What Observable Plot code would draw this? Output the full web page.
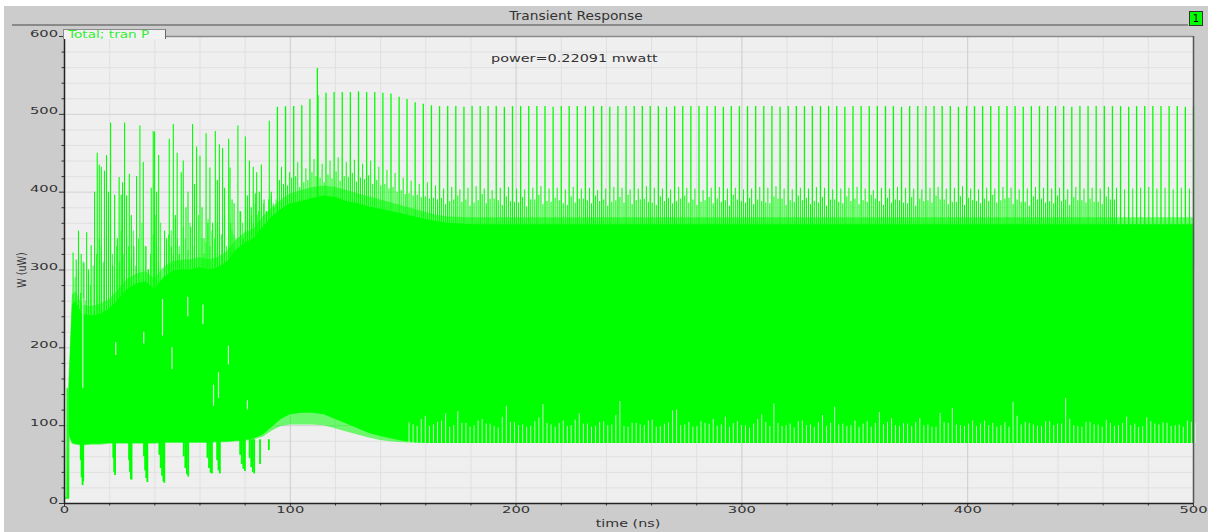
<!DOCTYPE html>
<html><head><meta charset="utf-8">
<script src="https://cdn.jsdelivr.net/npm/d3@7"></script>
<script src="https://cdn.jsdelivr.net/npm/@observablehq/plot@0.6"></script>
<style>
html,body{margin:0;padding:0;background:#fff;}
#wrap{position:relative;width:1208px;height:532px;overflow:hidden;font-family:"DejaVu Sans",sans-serif;}
#chart{position:absolute;left:0;top:0;}
.ov{position:absolute;white-space:nowrap;}
</style></head><body>
<div id="wrap">
<div id="chart"></div>
<div class="ov" style="left:0;top:0;width:1208px;height:6px;background:#fff;"></div>
<div class="ov" style="left:0;top:0;width:4px;height:532px;background:#fff;"></div>
<div class="ov" style="left:12px;top:24px;width:1176px;height:1.5px;background:#8a8a8a;"></div>
<div class="ov" id="title" style="left:426px;top:10px;width:300px;text-align:center;font-size:11.5px;line-height:12px;color:#333;transform:scaleX(1.2);transform-origin:center;"></div>
<div class="ov" style="left:1189px;top:11px;width:12px;height:13px;background:#00ff00;border:1px solid #333;font-size:10px;line-height:13px;text-align:center;color:#000;">1</div>
<div class="ov" style="left:63px;top:29px;width:101px;height:9px;background:#f2f2f2;border-top:1px solid #8a8a8a;border-left:1px solid #8a8a8a;border-right:1.5px solid #666;"><span id="legend" style="position:absolute;left:4px;top:-1px;font-size:11px;line-height:11px;color:#33ee33;transform:scaleX(1.24);transform-origin:left;"></span></div>
<div class="ov" id="power" style="left:491px;top:53px;font-size:11px;line-height:11px;color:#333;transform:scaleX(1.31);transform-origin:left;"></div>
<div class="ov" id="xlabel" style="left:527.5px;top:518px;width:200px;text-align:center;font-size:11px;line-height:11px;color:#333;transform:scaleX(1.3);transform-origin:center;"></div>
<div class="ov" id="ylabel" style="left:22px;top:270px;font-size:9.5px;line-height:10px;color:#333;transform:translate(-50%,-50%) rotate(-90deg) scaleY(1.3);"></div>
</div>
<script>
// ---- texts ----
const titleText = "Transient Response";
const legendText = "Total; tran P";
const powerText = "power=0.22091 mwatt";
const xLabel = "time (ns)";
const yLabel = "W (uW)";

// ---- tick values ----
const xMajor = [0, 100, 200, 300, 400, 500];
const xMinor = [20, 40, 60, 80, 120, 140, 160, 180, 220, 240, 260, 280, 320, 340, 360, 380, 420, 440, 460, 480];
const yMajor = [0, 100, 200, 300, 400, 500, 600];
const yMinor = [20, 40, 60, 80, 120, 140, 160, 180, 220, 240, 260, 280, 320, 340, 360, 380, 420, 440, 460, 480, 520, 540, 560, 580];

// ---- start-up segment (ns, uW) ----
const startT = [0, 0.08, 0.6, 1.1, 1.2, 1.3, 1.8, 1.9];
const startV = [70, 7, 7, 7, 148, 7, 7, 88];

// ---- envelope of the dense oscillation (ns, uW) ----
const bandT = [1.9, 3.5, 5, 8, 12, 16, 20, 24, 28, 32, 36, 40, 44, 48, 52, 56, 60, 64, 68, 72, 76, 80, 84, 88, 92, 96,
  100, 105, 110, 115, 120, 125, 130, 135, 140, 145, 150, 155, 160, 165, 170, 180, 200, 250, 300, 350, 400, 450, 500];
const bandOuterLow = [88, 76, 75, 74, 75, 75, 76, 76, 76, 76, 76, 76, 77, 77, 77, 77, 77, 77, 78, 78, 79, 80, 82, 85, 93, 99,
  101, 101, 101, 100, 96, 92, 88, 84, 81, 79, 78, 77.5, 77, 77, 77, 77, 77, 77, 77, 77, 77, 77, 77];
const bandInnerLow = [90, 77, 76, 75, 76, 76, 77, 77, 77, 77, 77, 77, 78, 78, 78, 78, 78, 78, 79, 79, 80, 81, 83, 88, 98, 108,
  114, 116, 116, 114, 108, 102, 96, 90, 86, 83, 80, 78, 77, 77, 77, 77, 77, 77, 77, 77, 77, 77, 77];
const bandInnerHigh = [140, 255, 260, 243, 241, 243, 250, 262, 275, 282, 285, 275, 290, 298, 300, 300, 303, 300, 303, 310, 325, 335, 340, 355, 368, 378,
  385, 388, 392, 395, 393, 388, 385, 381, 378, 375, 372, 368, 365, 362, 360, 358, 358, 358, 358, 358, 358, 358, 358];
const bandOuterHigh = [150, 268, 272, 255, 253, 256, 262, 275, 288, 295, 298, 288, 303, 311, 313, 313, 316, 313, 316, 323, 338, 348, 353, 368, 380, 390,
  398, 402, 406, 408, 406, 402, 398, 394, 390, 386, 382, 378, 374, 370, 368, 367, 367, 367, 367, 367, 367, 367, 367];

// ---- early irregular spikes (ns, uW) ----
const earlyT = [3.8, 5.2, 6.2, 7.4, 8.6, 9.8, 10.6, 11.8, 13.3, 14.5, 15.4, 16.3, 17.7, 18.6, 19.5, 20.4, 21.3, 22.2, 23.4, 24.2,
  25.1, 25.7, 26.6, 27.5, 28.7, 29.6, 30.7, 31.9, 33.4, 34.9, 36.1, 37.2, 38.4, 39.3, 39.9, 40.8, 41.7, 43.4, 44.3, 45.2,
  46.4, 47.3, 48.2, 49.1, 49.9, 50.8, 51.7, 52.6, 53.8, 54.7, 55.9, 56.7, 57.6, 58.5, 60.0, 60.9, 61.8, 62.7, 63.5, 64.4,
  65.6, 66.8, 67.7, 68.6, 70.0, 70.9, 72.7, 73.3, 74.2, 75.1, 76.8, 78.0, 79.2, 80.1, 81.0, 81.9, 82.7, 83.6, 84.5, 85.1,
  86.3, 87.2, 88.4, 89.5, 90.7, 91.6, 92.8];
const earlyV = [322, 313, 350, 320, 309, 348, 300, 331, 400, 450, 435, 432, 427, 447, 400, 489, 305, 396, 340, 419,
  396, 412, 489, 395, 423, 370, 330, 420, 485, 438, 330, 300, 405, 478, 477, 400, 447, 285, 350, 340,
  468, 330, 487, 370, 450, 320, 425, 440, 380, 400, 355, 487, 410, 458, 446, 380, 340, 475, 360, 431,
  360, 478, 415, 461, 456, 405, 468, 431, 390, 385, 485, 375, 340, 471, 395, 440, 380, 432, 398, 425,
  400, 435, 390, 375, 491, 400, 380];
// lower spikes just after each early spike
const earlyV2 = [290, 300, 270, 310, 260, 295, 280, 305, 320, 340,
  330, 310, 345, 300, 360, 320, 295, 330, 310, 350,
  320, 300, 340, 330, 315, 350, 305, 340, 360, 330,
  300, 320, 345, 370, 330, 310, 360, 300, 335, 345,
  350, 320, 365, 340, 330, 310, 355, 340, 325, 360,
  330, 350, 345, 370, 340, 320, 335, 365, 330, 350,
  340, 360, 355, 345, 370, 330, 360, 350, 345, 340,
  375, 360, 350, 380, 365, 370, 360, 385, 370, 375,
  380, 385, 375, 390, 395, 385, 390];

// ---- light gaps inside the early dense region (ns, uW) ----
const earlyGapT = [8.1, 22.7, 35.1, 43.4, 47.6, 54.6, 61.3, 66.0, 68.2, 72.6, 81.0];
const earlyGapLo = [148, 190, 205, 215, 172, 240, 230, 125, 135, 178, 120];
const earlyGapHi = [263, 207, 220, 262, 200, 265, 255, 152, 168, 202, 132];

// ---- downward dips in the first 90 ns (ns, uW) ----
const dipT = [7.2, 7.6, 8.0, 8.3, 21.6, 22.0, 22.4, 28.6, 29.0, 29.4, 29.7, 35.2, 35.7, 36.2, 36.7, 42.0, 42.6, 43.2, 43.8, 44.2,
  52.8, 53.5, 54.2, 54.8, 63.3, 64.0, 64.7, 65.3, 67.6, 68.2, 68.8, 77.8, 78.5, 79.2, 79.9, 82.0, 82.7, 83.4, 84.0, 86.6, 90.5];
const dipV = [55, 33, 23, 28, 58, 40, 36, 55, 40, 31, 30, 60, 42, 32, 27, 62, 45, 35, 28, 26,
  60, 45, 37, 34, 58, 45, 39, 38, 55, 42, 38, 62, 50, 44, 41, 58, 46, 40, 38, 50, 68];

// ---- periodic tall spikes (ns, uW) ----
const peakT = [94.3, 97.9, 101.5, 105.1, 108.7, 112.3, 115.8, 119.4, 123.0, 126.6, 130.2, 133.8, 137.4, 141.0, 144.6, 148.2, 151.7, 155.3, 158.9, 162.5,
  166.1, 169.7, 173.3, 176.9, 180.5, 184.1, 187.6, 191.2, 194.8, 198.4, 202.0, 205.6, 209.2, 212.8, 216.4, 220.0, 223.5, 227.1, 230.7, 234.3,
  237.9, 241.5, 245.1, 248.7, 252.3, 255.9, 259.4, 263.0, 266.6, 270.2, 273.8, 277.4, 281.0, 284.6, 288.2, 291.8, 295.3, 298.9, 302.5, 306.1,
  309.7, 313.3, 316.9, 320.5, 324.1, 327.7, 331.2, 334.8, 338.4, 342.0, 345.6, 349.2, 352.8, 356.4, 360.0, 363.6, 367.1, 370.7, 374.3, 377.9,
  381.5, 385.1, 388.7, 392.3, 395.9, 399.5, 403.0, 406.6, 410.2, 413.8, 417.4, 421.0, 424.6, 428.2, 431.8, 435.4, 438.9, 442.5, 446.1, 449.7,
  453.3, 456.9, 460.5, 464.1, 467.7, 471.3, 474.8, 478.4, 482.0, 485.6, 489.2, 492.8, 496.4, 500.0];
const peakV = [509, 510, 510, 511, 519, 524, 527, 528, 528, 528, 529, 528, 528, 527, 526, 522, 519, 515, 513, 511,
  510, 510, 510, 509, 510, 510, 510, 510, 509, 510, 510, 510, 510, 510, 509, 510, 510, 510, 510, 510,
  510, 509, 510, 510, 510, 510, 510, 510, 509, 510, 510, 510, 510, 510, 510, 509, 510, 510, 510, 510,
  510, 510, 509, 510, 510, 510, 510, 510, 510, 510, 509, 510, 510, 510, 510, 510, 510, 509, 510, 510,
  510, 510, 510, 510, 509, 510, 510, 510, 510, 510, 510, 510, 509, 510, 510, 510, 510, 510, 509, 510,
  510, 510, 510, 510, 510, 509, 510, 510, 510, 510, 510, 510, 509, 510];
// spikes right after each tall spike
const peakSubV = [415, 408, 420, 412, 425, 418, 422, 426, 420, 424, 418, 421, 415, 410, 406, 402, 398, 396, 394, 392,
  392, 388, 395, 390, 386, 397, 391, 389, 394, 387,
  393, 390, 396, 388, 392, 385, 394, 391, 389, 395,
  390, 387, 393, 396, 389, 391, 386, 394, 392, 388,
  395, 390, 387, 393, 391, 389, 396, 388, 392, 390,
  386, 394, 391, 389, 395, 392, 388, 393, 390, 387,
  394, 391, 389, 396, 388, 392, 390, 386, 393, 391,
  389, 395, 390, 387, 394, 392, 388, 391, 396, 389,
  392, 390, 387, 394, 391, 388, 395, 390, 393, 389,
  391, 387, 394, 390];
// shallow troughs right after each tall spike (null = not distinct)
const peakGapV = [null, null, null, null, null, null, null, null, null, null, null, null, null, null, null, null,
  104, 99, 112, 101, 106, 98, 118, 103, 100, 108,
  102, 97, 125, 104, 101, 99, 110, 103, 98, 106,
  100, 115, 102, 99, 105, 101, 131, 98, 103, 100,
  107, 99, 104, 120, 101, 98, 105, 102, 99, 111,
  103, 100, 97, 108, 104, 128, 99, 102, 105, 100,
  98, 113, 103, 101, 99, 106, 102, 98, 117, 104,
  100, 103, 99, 109, 101, 98, 104, 122, 100, 102,
  99, 106, 103, 100, 98, 112, 104, 101, 99, 105,
  102, 135, 100, 98, 104, 101, 107, 99, 103, 100,
  98, 110, 102, 104, 99, 101, 106, 103];
const tallT = [112.0];
const tallV = [559];

// ---- secondary spikes between the tall ones (ns, uW) ----
const midT = [96.1, 99.7, 103.3, 106.9, 110.5, 114.1, 117.6, 121.2, 124.8, 128.4, 132.0, 135.6, 139.2, 142.8, 146.4, 150.0, 153.5, 157.1, 160.7, 164.3,
  167.9, 171.5, 175.1, 178.7, 182.3, 185.9, 189.4, 193.0, 196.6, 200.2, 203.8, 207.4, 211.0, 214.6, 218.2, 221.8, 225.3, 228.9, 232.5, 236.1,
  239.7, 243.3, 246.9, 250.5, 254.1, 257.7, 261.2, 264.8, 268.4, 272.0, 275.6, 279.2, 282.8, 286.4, 290.0, 293.6, 297.1, 300.7, 304.3, 307.9,
  311.5, 315.1, 318.7, 322.3, 325.9, 329.5, 333.0, 336.6, 340.2, 343.8, 347.4, 351.0, 354.6, 358.2, 361.8, 365.4, 368.9, 372.5, 376.1, 379.7,
  383.3, 386.9, 390.5, 394.1, 397.7, 401.3, 404.8, 408.4, 412.0, 415.6, 419.2, 422.8, 426.4, 430.0, 433.6, 437.2, 440.7, 444.3, 447.9, 451.5,
  455.1, 458.7, 462.3, 465.9, 469.5, 473.1, 476.6, 480.2, 483.8, 487.4, 491.0, 494.6, 498.2];
const midV = [432, 425, 438, 430, 442, 436, 440, 444, 438, 441, 436, 440, 432, 428, 424, 418, 414, 410, 412, 408,
  404, 406, 403, 405, 407, 404, 402, 405, 406, 404, 403, 405, 407, 404, 405, 403, 406, 404, 405, 402,
  404, 406, 405, 403, 404, 407, 405, 404, 403, 406, 405, 404, 402, 405, 406, 404, 405, 403, 404, 406,
  405, 407, 404, 403, 405, 404, 406, 405, 403, 404, 405, 406, 404, 402, 405, 404, 406, 405, 404, 403,
  405, 406, 404, 405, 407, 404, 403, 405, 404, 406, 405, 403, 404, 406, 405, 404, 405, 403, 406, 404,
  405, 404, 406, 405, 403, 404, 405, 406, 404, 405, 403, 405, 404];
const midSubV = [410, 418, 406, 415, 420, 412, 417, 414, 419, 413, 416, 410, 408, 404, 400, 397, 395, 393, 391, 390,
  384, 390, 387, 382, 389, 385, 391, 383, 388, 386,
  381, 390, 384, 387, 389, 383, 386, 391, 385, 388,
  382, 389, 386, 384, 390, 387, 383, 388, 385, 391,
  386, 383, 389, 385, 387, 382, 390, 386, 384, 388,
  385, 391, 383, 387, 389, 384, 386, 382, 390, 385,
  388, 384, 387, 391, 383, 386, 389, 385, 382, 388,
  386, 390, 384, 387, 383, 389, 385, 388, 386, 391,
  384, 387, 382, 390, 386, 385, 388, 383, 389, 386,
  387, 384, 390];
const midGapV = [null, null, null, null, null, null, null, null, null, null, null, null, null, null, null, null,
  101, 108, 99, 104, 115, 100, 103, 98, 106, 102,
  99, 111, 104, 100, 98, 105, 127, 101, 103, 99,
  107, 102, 98, 104, 100, 113, 99, 103, 101, 106,
  98, 102, 119, 100, 104, 99, 103, 108, 101, 98,
  105, 100, 102, 114, 99, 103, 100, 97, 106, 101,
  104, 99, 124, 102, 100, 98, 105, 103, 101, 109,
  99, 102, 104, 100, 98, 116, 103, 101, 99, 106,
  102, 100, 98, 104, 130, 101, 103, 99, 105, 100,
  102, 108, 99, 104, 101, 98, 103, 100, 111, 102,
  99, 105, 101, 103, 100, 98, 104];

// ---- build tables ----
const band = bandT.map((t, i) => ({t, lo1: bandOuterLow[i], lo2: bandInnerLow[i], hi2: bandInnerHigh[i], hi1: bandOuterHigh[i]}));
const start = startT.map((t, i) => ({t, v: startV[i]}));
const early = earlyT.map((t, i) => ({t, v: earlyV[i], v2: earlyV2[i]}));
const earlyGaps = earlyGapT.map((t, i) => ({t, lo: earlyGapLo[i], hi: earlyGapHi[i]}));
const dips = dipT.map((t, i) => ({t, v: dipV[i]}));
const peaks = peakT.map((t, i) => ({t, v: peakV[i], sub: peakSubV[i], gap: peakGapV[i]}));
const tall = tallT.map((t, i) => ({t, v: tallV[i]}));
const mids = midT.map((t, i) => ({t, v: midV[i], sub: midSubV[i], gap: midGapV[i]}));
const peakGaps = peaks.filter(d => d.gap != null);
const midGaps = mids.filter(d => d.gap != null);

const G = "#00ff00";
const PALE = "#c6f4c6";
const plot = Plot.plot({
  width: 1208, height: 532,
  marginLeft: 64, marginRight: 15, marginTop: 36, marginBottom: 29,
  x: {domain: [0, 500]},
  y: {domain: [0, 600]},
  style: {background: "#cccccc", fontFamily: "DejaVu Sans, sans-serif", overflow: "visible"},
  marks: [
    Plot.frame({fill: "#efefef", stroke: null}),
    Plot.gridY({ticks: yMinor, stroke: "#e0e0e0", strokeOpacity: 1}),
    Plot.gridX({ticks: xMinor, stroke: "#e0e0e0", strokeOpacity: 1}),
    Plot.gridY({ticks: yMajor, stroke: "#d2d2d2", strokeOpacity: 1}),
    Plot.gridX({ticks: xMajor, stroke: "#cdcdcd", strokeOpacity: 1}),
    Plot.areaY(band, {x: "t", y1: "lo1", y2: "hi1", fill: G, fillOpacity: 0.55}),
    Plot.areaY(band, {x: "t", y1: "lo2", y2: "hi2", fill: G}),
    Plot.line(start, {x: "t", y: "v", stroke: G, strokeWidth: 1.2}),
    Plot.ruleX(early, {x: "t", y1: 200, y2: "v2", dx: 2, stroke: G, strokeWidth: 1, strokeOpacity: 0.8}),
    Plot.ruleX(early, {x: "t", y1: 200, y2: "v", stroke: G, strokeWidth: 1.1}),
    Plot.ruleX(earlyGaps, {x: "t", y1: "lo", y2: "hi", stroke: "#d8f2d8", strokeWidth: 1.2}),
    Plot.ruleX(dips, {x: "t", y1: "v", y2: 82, stroke: G, strokeWidth: 1.8}),
    Plot.ruleX(peakGaps, {x: "t", y1: 77, y2: "gap", dx: 2, stroke: PALE, strokeWidth: 1}),
    Plot.ruleX(midGaps, {x: "t", y1: 77, y2: "gap", dx: 2, stroke: PALE, strokeWidth: 1}),
    Plot.ruleX(peaks, {x: "t", y1: 300, y2: "sub", dx: 2, stroke: G, strokeWidth: 1}),
    Plot.ruleX(mids, {x: "t", y1: 300, y2: "sub", dx: 2, stroke: G, strokeWidth: 1}),
    Plot.ruleX(mids, {x: "t", y1: 300, y2: "v", stroke: G, strokeWidth: 1}),
    Plot.ruleX(peaks, {x: "t", y1: 300, y2: "v", stroke: G, strokeWidth: 1.3}),
    Plot.ruleX(tall, {x: "t", y1: 300, y2: "v", stroke: G, strokeWidth: 1.3}),
    Plot.axisY({ticks: yMinor, tickSize: 2.5, tickFormat: () => "", stroke: "#333", label: null}),
    Plot.axisY({ticks: yMajor, tickSize: 5, tickPadding: 1.5, fontSize: 9.5, fill: "#333", stroke: "#333", label: null}),
    Plot.axisX({ticks: xMinor, tickSize: 2.5, tickFormat: () => "", stroke: "#333", label: null}),
    Plot.axisX({ticks: xMajor, tickSize: 3, tickPadding: 6, fontSize: 9.5, fill: "#333", stroke: "#333", label: null}),
    Plot.ruleY([600], {stroke: "#8a8a8a", strokeWidth: 1.5}),
    Plot.ruleX([500], {stroke: "#555", strokeWidth: 1.5}),
    Plot.ruleX([0], {stroke: "#222", strokeWidth: 1.5}),
    Plot.ruleY([0], {stroke: "#222", strokeWidth: 1.5})
  ]
});
document.getElementById("chart").appendChild(plot);

// stretch tick labels horizontally like the reference rendering
for (const t of plot.querySelectorAll('g[aria-label$="tick label"] text')) {
  const x = t.getAttribute("x"), y = t.getAttribute("y");
  let tr = t.getAttribute("transform") || "";
  if (x !== null || y !== null) {
    tr += ` translate(${+x || 0},${+y || 0})`;
    t.removeAttribute("x"); t.removeAttribute("y");
  }
  t.setAttribute("transform", tr + " scale(1.55,1)");
}

document.getElementById("title").textContent = titleText;
document.getElementById("legend").textContent = legendText;
document.getElementById("power").textContent = powerText;
document.getElementById("xlabel").textContent = xLabel;
document.getElementById("ylabel").textContent = yLabel;
</script>
</body></html>
